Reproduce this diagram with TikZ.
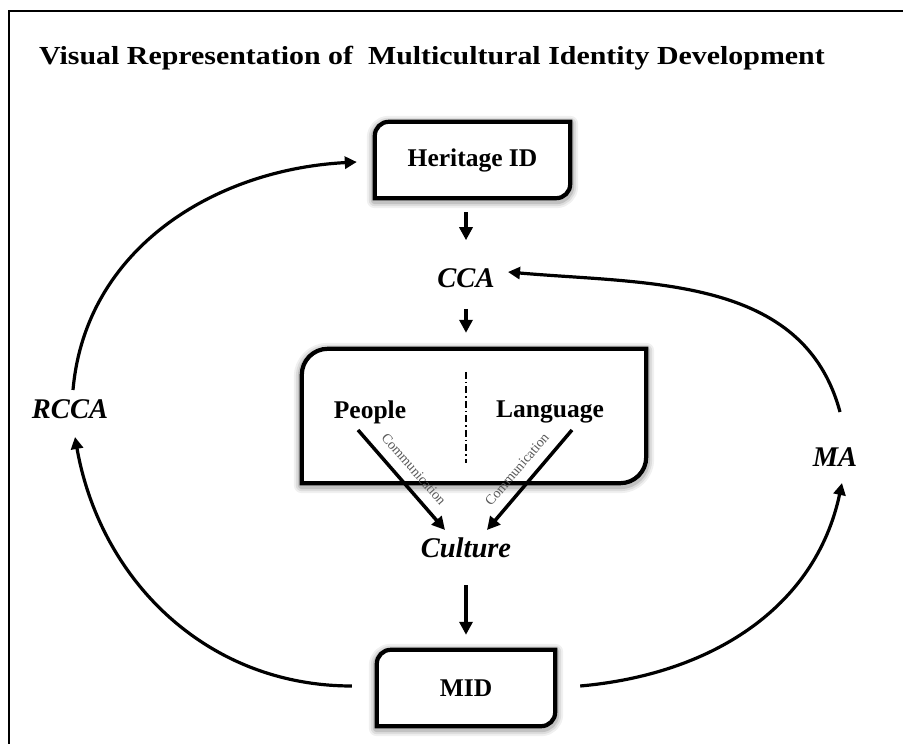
\documentclass[tikz,border=0pt]{standalone}
\usepackage{fontspec}
\setmainfont{Liberation Serif}
\usetikzlibrary{arrows.meta,calc,backgrounds}

\newcommand\titlefont{\fontsize{26}{30}\selectfont\bfseries}
\newcommand\boxfont{\fontsize{25.5}{30}\selectfont\bfseries}
\newcommand\lblfont{\fontsize{28.5}{32}\selectfont\bfseries\itshape}

% box with a rounded top-left and bottom-right corner, soft shadow round it
\newcommand\snipbox[2]{%
  \foreach \gw/\go in {16/0.06,12/0.08,8/0.12}{%
    \draw[line width=\gw pt, black, opacity=\go, line join=round,
          transform canvas={yshift=-2pt}]
      (#1.south west) -- ([yshift=-#2]#1.north west)
      arc[start angle=180,end angle=90,radius=#2] -- (#1.north east)
      -- ([yshift=#2]#1.south east)
      arc[start angle=0,end angle=-90,radius=#2] -- cycle;}%
  \draw[boxline]
    (#1.south west) -- ([yshift=-#2]#1.north west)
    arc[start angle=180,end angle=90,radius=#2] -- (#1.north east)
    -- ([yshift=#2]#1.south east)
    arc[start angle=0,end angle=-90,radius=#2] -- cycle;}

\tikzset{
  boxnode/.style={inner sep=0pt, font=\boxfont},
  boxline/.style={line width=4.2pt, draw=black, fill=white, line join=miter},
  lbl/.style={font=\lblfont, inner sep=2pt},
  word/.style={font=\boxfont, inner sep=2pt},
  arr/.style={line width=3.5pt, -{Triangle[length=13pt,width=13pt]}},
  curvearr/.style={line width=3.2pt, -{Triangle[length=12pt,width=12pt]}},
  comm/.style={font=\fontsize{14}{16}\selectfont, text=black!65, sloped,
               above=9pt, inner sep=1pt},
  divider/.style={line width=1.4pt, dash pattern=on 7pt off 3pt on 1.5pt off 3pt},
}

\begin{document}
\begin{tikzpicture}[x=1pt,y=1pt]
\useasboundingbox (0,0) rectangle (903,744);
\clip (0,0) rectangle (903,744);
\begin{pgfonlayer}{background}
  \fill[white] (0,0) rectangle (903,744);
\end{pgfonlayer}

% outer frame
\draw[line width=2pt] (9,-20) -- (9,733) -- (930,733);

% title
\node[font=\titlefont, inner sep=0pt] (title) at (432,686)
  {\scalebox{1.15}[1]{Visual Representation of\ \ Multicultural Identity Development}};

% boxes
\node[boxnode, minimum width=195, minimum height=76] (heritage) at (472.5,584) {Heritage ID};
\node[boxnode, minimum width=344, minimum height=134] (middle) at (474,328) {};
\node[boxnode, minimum width=178, minimum height=76] (mid) at (466,56) {MID};

\begin{pgfonlayer}{background}
  \snipbox{heritage}{14pt}
  \snipbox{middle}{26pt}
  \snipbox{mid}{14pt}
\end{pgfonlayer}

% labels
\node[lbl] (cca) at (466,466) {CCA};
\node[lbl] (culture) at (466,196) {Culture};
\node[lbl] (rcca) at (70,335) {RCCA};
\node[lbl] (ma) at (835,287) {MA};
\node[word] (people) at (370,332) {People};
\node[word] (language) at (550,332) {Language};

% divider inside the middle box
\coordinate (divtop) at ([xshift=-8pt,yshift=44pt]middle.center);
\coordinate (divbot) at ([xshift=-8pt,yshift=-47pt]middle.center);
\draw[divider] (divtop) -- (divbot);

% straight arrows
\draw[arr, shorten <=14pt, shorten >=26pt] (cca |- heritage.south) -- (cca);
\draw[arr, shorten <=19pt, shorten >=16pt] (cca) -- (cca |- middle.north);
\draw[arr, shorten <=25pt, shorten >=15pt] (culture) -- (culture |- mid.north);

\draw[arr] ([xshift=-12pt,yshift=-18pt]people.center)
  -- node[comm] {Communication} ([xshift=-21pt,yshift=18pt]culture.center);
\draw[arr] ([xshift=22pt,yshift=-18pt]language.center)
  -- node[comm] {Communication} ([xshift=21pt,yshift=18pt]culture.center);

% outer cycle
\draw[curvearr] ([xshift=-25pt,yshift=2pt]mid.west) to[out=180,in=-80]
  ([xshift=5pt,yshift=-28pt]rcca.center);
\draw[curvearr] ([xshift=3pt,yshift=19pt]rcca.center) to[out=85,in=183]
  ([xshift=-18pt,yshift=-2pt]heritage.west);
\draw[curvearr] ([xshift=5pt,yshift=45pt]ma.center) to[out=105,in=-5]
  ([xshift=42pt,yshift=6pt]cca.center);
\draw[curvearr] ([xshift=25pt,yshift=2pt]mid.east) to[out=5,in=-102]
  ([xshift=7pt,yshift=-26pt]ma.center);
\end{tikzpicture}
\end{document}
